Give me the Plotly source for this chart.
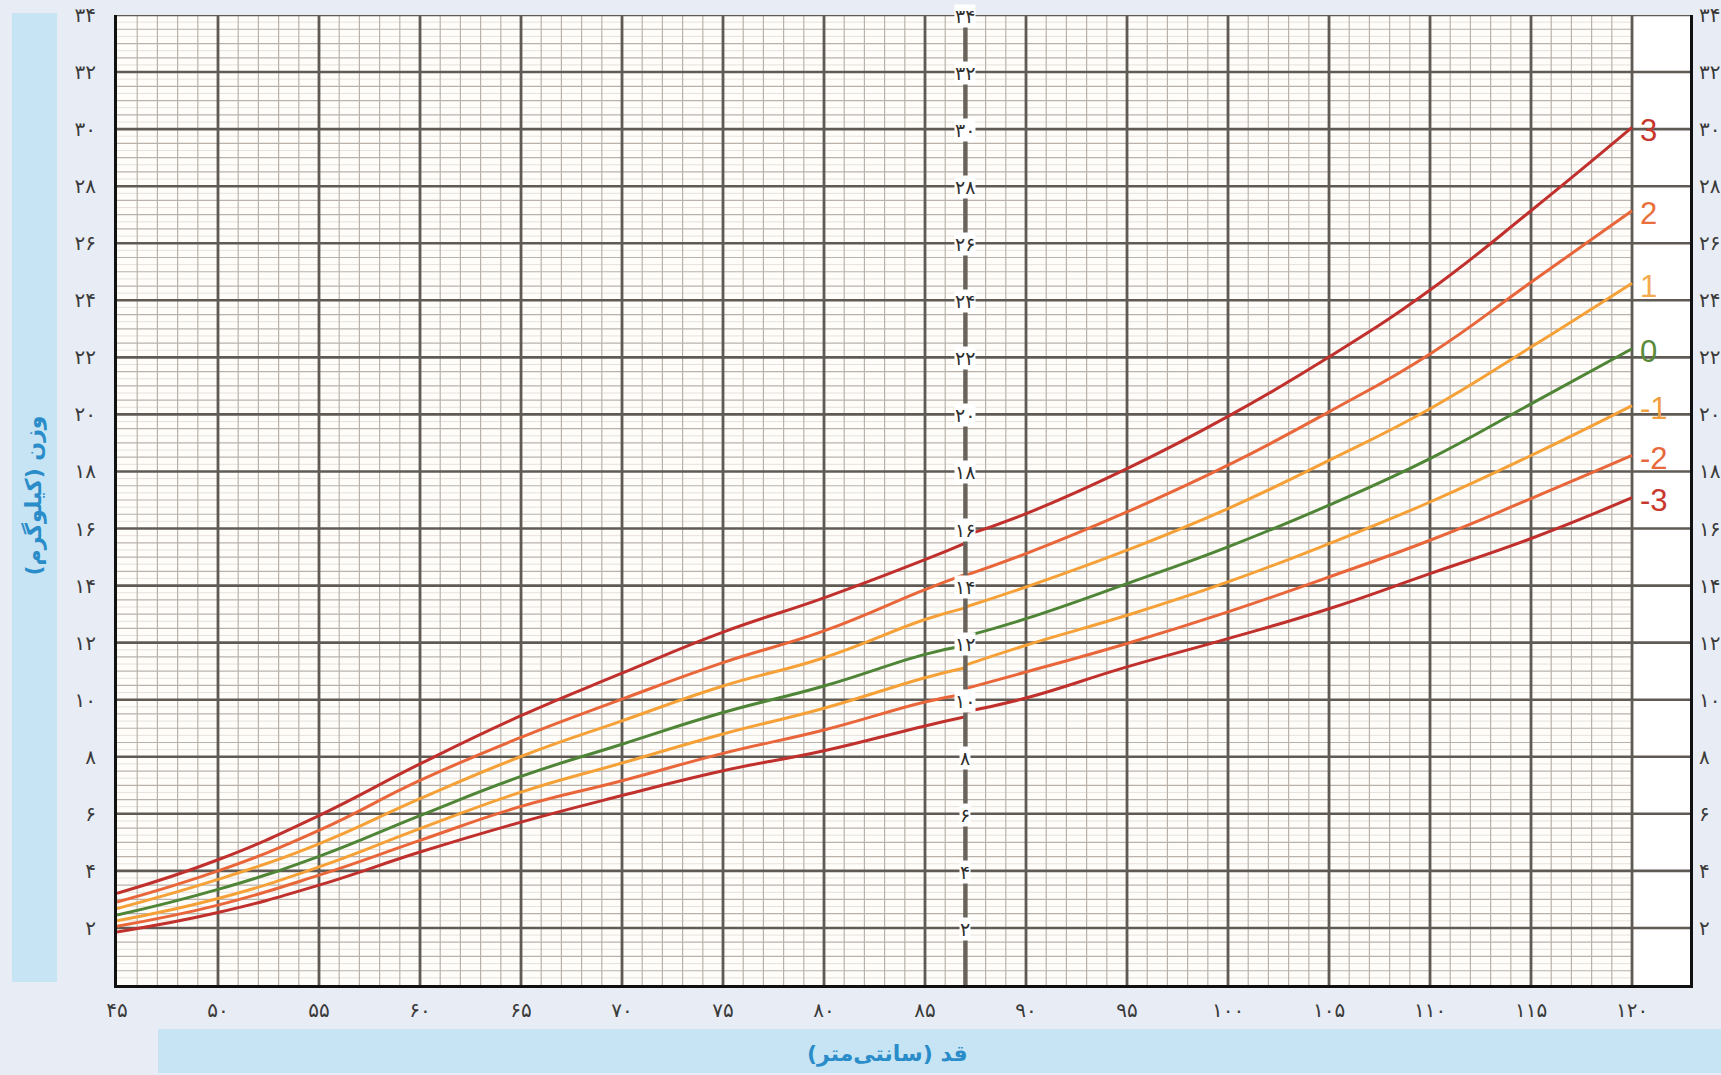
import plotly.graph_objects as go

# ---------------- data ----------------
length_cm = [45, 50, 55, 60, 65, 70, 75, 80, 85, 87]
len_p3 = [3.21, 4.39, 5.94, 7.75, 9.44, 10.93, 12.37, 13.57, 14.91, 15.49]
len_p2 = [2.91, 4.00, 5.42, 7.17, 8.68, 10.02, 11.30, 12.41, 13.86, 14.39]
len_p1 = [2.68, 3.70, 4.95, 6.53, 8.01, 9.26, 10.48, 11.47, 12.81, 13.22]
len_0 = [2.45, 3.35, 4.51, 5.94, 7.31, 8.44, 9.55, 10.48, 11.59, 11.90]
len_m1 = [2.25, 3.03, 4.14, 5.48, 6.76, 7.78, 8.80, 9.70, 10.77, 11.12]
len_m2 = [2.06, 2.80, 3.85, 5.07, 6.26, 7.16, 8.12, 8.94, 9.92, 10.20]
len_m3 = [1.86, 2.54, 3.50, 4.66, 5.71, 6.64, 7.51, 8.21, 9.08, 9.40]

height_cm = [87, 90, 95, 100, 105, 110, 115, 120]
hgt_p3 = [15.76, 16.52, 18.10, 19.93, 22.01, 24.36, 27.14, 30.06]
hgt_p2 = [14.36, 15.12, 16.58, 18.22, 20.09, 22.12, 24.63, 27.14]
hgt_p1 = [13.25, 13.95, 15.24, 16.70, 18.39, 20.20, 22.36, 24.60]
hgt_0 = [12.22, 12.84, 14.07, 15.36, 16.82, 18.45, 20.37, 22.30]
hgt_m1 = [11.21, 11.91, 12.96, 14.13, 15.47, 16.93, 18.56, 20.31]
hgt_m2 = [10.39, 10.97, 11.97, 13.08, 14.30, 15.59, 17.05, 18.56]
hgt_m3 = [9.58, 10.06, 11.15, 12.14, 13.19, 14.42, 15.65, 17.08]

curve_labels = ["3", "2", "1", "0", "-1", "-2", "-3"]
x_ticks = list(range(45, 121, 5))
y_ticks = list(range(0, 35, 2))
mid_ticks = list(range(2, 35, 2))
x_title = "قد (سانتی‌متر)"
y_title = "وزن (کیلوگرم)"

# ---------------- styling ----------------
FA = str.maketrans("0123456789", "۰۱۲۳۴۵۶۷۸۹")
def fa(n):
    return str(n).translate(FA)

DARKRED = "#c0302c"
ORANGE = "#e8663a"
LORANGE = "#f5a138"
GREEN = "#4f8536"
line_colors = [DARKRED, ORANGE, LORANGE, GREEN, LORANGE, ORANGE, DARKRED]
label_colors = ["#c8372d", "#e9703c", "#f5aa4e", "#5b8a3a", "#f0a040", "#e8683c", "#c8372d"]

MAJOR = "#5f5a54"
MINOR = "#b9b2ab"
FINE = "#e6e1dc"
BG_PAGE = "#e8ecf4"
BAR = "#c6e4f3"
TITLE_BLUE = "#2a8cc9"
PLOT_BG = "#fffdf9"
X_MIN, X_MAX = 45, 122.87
Y_MIN, Y_MAX = 0, 34
GRID_END = 120

len_series = [len_p3, len_p2, len_p1, len_0, len_m1, len_m2, len_m3]
hgt_series = [hgt_p3, hgt_p2, hgt_p1, hgt_0, hgt_m1, hgt_m2, hgt_m3]

fig = go.Figure()

for ys_l, ys_h, col, lab in zip(len_series, hgt_series, line_colors, curve_labels):
    xs = list(length_cm) + [None] + list(height_cm)
    ys = list(ys_l) + [None] + list(ys_h)
    fig.add_trace(go.Scatter(
        x=xs, y=ys, mode="lines", name=lab,
        line=dict(color=col, width=3, shape="spline", smoothing=1.3),
        connectgaps=False, showlegend=False, hoverinfo="skip"))

# right axis labels
fig.add_trace(go.Scatter(x=[X_MIN], y=[Y_MIN], yaxis="y2", mode="markers",
                         marker=dict(opacity=0), showlegend=False, hoverinfo="skip"))

tick_font = dict(family="DejaVu Sans", size=20, color="#3a3a3a")

fig.update_layout(
    width=1721, height=1075,
    margin=dict(l=117, r=31, t=15, b=90, pad=0, autoexpand=False),
    paper_bgcolor=BG_PAGE, plot_bgcolor=PLOT_BG,
    xaxis=dict(range=[X_MIN, X_MAX], tickvals=x_ticks, ticktext=[fa(v) for v in x_ticks],
               showgrid=False, automargin=False,
               showline=True, linecolor="#111111", linewidth=3, zeroline=False,
               ticks="", ticklabelstandoff=5, tickfont=tick_font),
    yaxis=dict(range=[Y_MIN, Y_MAX], tickvals=y_ticks,
               ticktext=["" if v == 0 else fa(v) for v in y_ticks],
               showgrid=False, automargin=False,
               showline=True, linecolor="#111111", linewidth=3, mirror=True, zeroline=False,
               ticks="", ticklabelstandoff=14, tickfont=tick_font),
    yaxis2=dict(range=[Y_MIN, Y_MAX], overlaying="y", side="right", tickvals=y_ticks,
                ticktext=["" if v == 0 else fa(v) for v in y_ticks], automargin=False,
                showgrid=False, zeroline=False, showline=False, ticks="",
                ticklabelstandoff=8, tickfont=tick_font),
)

shapes = []
# 0.25-kg fine horizontal lines
for k in range(1, Y_MAX * 4):
    if k % 2:
        shapes.append(dict(type="line", xref="x", yref="y", x0=X_MIN, x1=GRID_END,
                           y0=k / 4, y1=k / 4, line=dict(color=FINE, width=1), layer="between"))
# white column to the right of 120 cm
shapes.append(dict(type="rect", xref="x", yref="y", x0=GRID_END, x1=X_MAX, y0=Y_MIN, y1=Y_MAX,
                   fillcolor="#ffffff", line=dict(width=0), layer="between"))
# 1-cm vertical lines
for c in range(X_MIN + 1, GRID_END):
    if c % 5 and c != 87:
        shapes.append(dict(type="line", xref="x", yref="y", x0=c, x1=c, y0=Y_MIN, y1=Y_MAX,
                           line=dict(color=MINOR, width=1.2), layer="between"))
# 0.5-kg horizontal lines
for k in range(1, Y_MAX * 2):
    if k % 4:
        shapes.append(dict(type="line", xref="x", yref="y", x0=X_MIN, x1=GRID_END,
                           y0=k / 2, y1=k / 2, line=dict(color=MINOR, width=1.2), layer="between"))
# major lines
for v in y_ticks[1:]:
    shapes.append(dict(type="line", xref="x", yref="y", x0=X_MIN, x1=X_MAX, y0=v, y1=v,
                       line=dict(color=MAJOR, width=2.6), layer="between"))
for c in x_ticks[1:]:
    shapes.append(dict(type="line", xref="x", yref="y", x0=c, x1=c, y0=Y_MIN, y1=Y_MAX,
                       line=dict(color=MAJOR, width=2.8), layer="between"))
# thick centre line at 87 cm
shapes.append(dict(type="rect", xref="x", yref="y", x0=86.89, x1=87.11, y0=Y_MIN, y1=Y_MAX,
                   fillcolor="#69635c", line=dict(width=0), layer="above"))
# light-blue title bars
shapes.append(dict(type="rect", xref="paper", yref="paper", x0=-0.0668, x1=-0.0381,
                   y0=0.003, y1=1.002, fillcolor=BAR, line=dict(width=0), layer="below"))
shapes.append(dict(type="rect", xref="paper", yref="paper", x0=0.0261, x1=1.03,
                   y0=-0.0907, y1=-0.0454, fillcolor=BAR, line=dict(width=0), layer="below"))
fig.update_layout(shapes=shapes)

annotations = []
for v in mid_ticks:
    annotations.append(dict(x=87, y=v, xref="x", yref="y", text=fa(v), showarrow=False,
                            font=dict(family="DejaVu Sans", size=19, color="#2e2e2e"),
                            bgcolor="#ffffff", borderpad=0, yshift=-1))
for ys_h, col, lab in zip(hgt_series, label_colors, curve_labels):
    annotations.append(dict(x=GRID_END, y=ys_h[-1], xref="x", yref="y", text=lab, showarrow=False,
                            xanchor="left", yanchor="middle", xshift=6, yshift=-3,
                            font=dict(family="Liberation Sans, Arial", size=31, color=col)))
annotations.append(dict(x=0.49, y=-0.087, xref="paper", yref="paper",
                        text="<b>" + x_title + "</b>", showarrow=False,
                        font=dict(family="DejaVu Sans", size=22, color=TITLE_BLUE)))
annotations.append(dict(x=-0.063, y=0.505, xref="paper", yref="paper",
                        text="<b>" + y_title + "</b>", showarrow=False, textangle=-90,
                        font=dict(family="DejaVu Sans", size=22, color=TITLE_BLUE)))
fig.update_layout(annotations=annotations)

fig.write_html("out.html", config={"displayModeBar": False},
               post_script="document.body.style.margin='0';")
